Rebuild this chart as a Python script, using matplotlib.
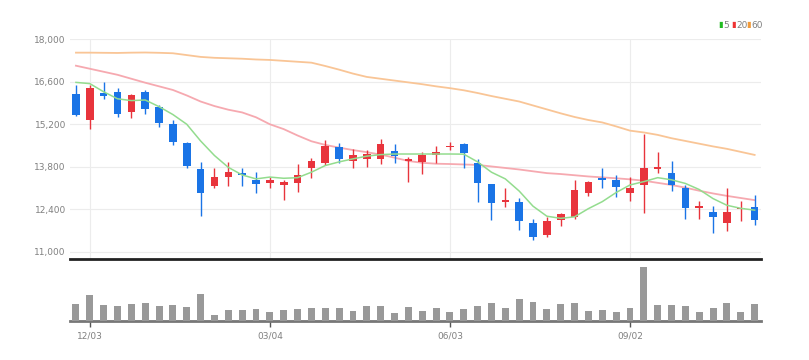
import matplotlib
matplotlib.use('Agg')
import matplotlib.pyplot as plt
import numpy as np

plt.rcParams['font.family'] = ['Liberation Sans Narrow', 'DejaVu Sans']

# weekly candles (red = up, blue = down)
opens = [16200, 15340, 16220, 16253, 15614, 16273, 15778, 15198, 14572, 13725,
         13175, 13472, 13583, 13363, 13274, 13198, 13254, 13768, 13933, 14440,
         13999, 14055, 14055, 14328, 13979, 13946, 14198, 14440, 14540, 13933,
         13231, 12647, 12647, 11955, 11550, 12044, 12153, 12944, 13418, 13363,
         12944, 13198, 13735, 13583, 13089, 12430, 12308, 11935, 12397, 12483]
closes = [15500, 16385, 16130, 15538, 16164, 15693, 15231, 14605, 13824, 12944,
          13472, 13636, 13517, 13221, 13363, 13297, 13517, 13999, 14483, 14045,
          14187, 14210, 14549, 14154, 14045, 14177, 14276, 14493, 14243, 13254,
          12614, 12703, 12021, 11474, 12021, 12242, 13033, 13287, 13363, 13122,
          13109, 13748, 13801, 13188, 12430, 12516, 12133, 12298, 12450, 12044]
highs = [16494, 16494, 16600, 16385, 16197, 16329, 15835, 15340, 14625, 13966,
         13748, 13966, 13748, 13616, 13451, 13363, 13880, 14078, 14681, 14572,
         14374, 14352, 14714, 14540, 14132, 14276, 14493, 14625, 14572, 14045,
         13231, 13089, 12759, 12067, 12153, 12285, 13363, 13330, 13748, 13527,
         13451, 14869, 14276, 13999, 13198, 12670, 12516, 13089, 12670, 12868]
lows = [15472, 15034, 16020, 15450, 15396, 15538, 15100, 14516, 13748, 12186,
        13089, 13175, 13165, 12944, 13089, 12703, 12977, 13418, 13857, 13913,
        13748, 13781, 13880, 13913, 13307, 13550, 13913, 14352, 13748, 12627,
        12044, 12463, 11715, 11385, 11494, 11846, 12077, 12835, 13089, 12792,
        12670, 12285, 13583, 13000, 12077, 12077, 11626, 11681, 12011, 11879]

ma5 = [16580, 16540, 16270, 16040, 15980, 16000, 15780, 15520, 15200, 14650,
       14170, 13780, 13530, 13400, 13460, 13420, 13440, 13620, 13840, 13960,
       14060, 14150, 14200, 14220, 14220, 14220, 14220, 14220, 14215, 13960,
       13620, 13400, 13000, 12500, 12170, 12100, 12150, 12420, 12650, 12950,
       13200, 13310, 13440, 13370, 13250, 13050, 12750, 12530, 12430, 12370]
ma20 = [17130, 17030, 16930, 16830, 16700, 16570, 16450, 16330, 16150, 15950,
        15800, 15680, 15590, 15430, 15200, 15040, 14830, 14640, 14520, 14430,
        14350, 14280, 14200, 14100, 13990, 13930, 13900, 13890, 13875, 13860,
        13810, 13760, 13710, 13650, 13590, 13560, 13520, 13480, 13450, 13420,
        13385, 13340, 13270, 13200, 13110, 13010, 12920, 12840, 12770, 12700]
ma60 = [17560, 17560, 17555, 17550, 17560, 17565, 17555, 17540, 17480, 17420,
        17390, 17375, 17360, 17335, 17320, 17290, 17260, 17230, 17120, 17000,
        16870, 16760, 16700, 16640, 16580, 16520, 16450, 16390, 16320, 16230,
        16130, 16040, 15950, 15820, 15690, 15560, 15440, 15340, 15260, 15130,
        14990, 14930, 14850, 14740, 14650, 14560, 14470, 14390, 14290, 14190]

volumes = [164, 257, 157, 147, 164, 174, 147, 157, 140, 264,
           57, 107, 107, 114, 90, 107, 114, 130, 130, 124,
           97, 147, 147, 80, 140, 97, 124, 90, 114, 147,
           174, 124, 214, 190, 114, 164, 180, 97, 107, 90,
           124, 540, 157, 157, 147, 84, 124, 180, 90, 164]

tick_idx = [1, 14, 27, 40]
tick_labels = ['12/03', '03/04', '06/03', '09/02']
price_ticks = [11000, 12400, 13800, 15200, 16600, 18000]

up_color = '#e8343c'
down_color = '#1a74e6'

fig = plt.figure(figsize=(8.09, 3.6), dpi=100)
ax = fig.add_axes([70 / 809, 1 - 259 / 360, 691 / 809, 219.7 / 360])
axv = fig.add_axes([70 / 809, 1 - 320.7 / 360, 691 / 809, 57.7 / 360], sharex=ax)

x = np.arange(len(opens))
width = 0.55

for i in x:
    c = up_color if closes[i] >= opens[i] else down_color
    ax.vlines(i, lows[i], highs[i], color=c, linewidth=1.0, zorder=3)
    bottom = min(opens[i], closes[i])
    h = max(abs(closes[i] - opens[i]), 25)
    ax.bar(i, h, width, bottom=bottom, color=c, zorder=4)

ax.plot(x, ma5, color='#93dc8e', linewidth=1.1, zorder=5)
ax.plot(x, ma20, color='#f6a9b0', linewidth=1.3, zorder=2)
ax.plot(x, ma60, color='#f9c596', linewidth=1.3, zorder=2)

ax.set_xlim(-0.43, 49.46)
ax.set_ylim(10760, 18000)
ax.set_yticks(price_ticks)
ax.set_yticklabels(['{:,}'.format(v) for v in price_ticks])
ax.set_xticks(tick_idx)
ax.tick_params(axis='y', length=0, pad=3, labelsize=6.5, labelcolor='#808080')
ax.tick_params(axis='x', length=0, labelbottom=False)
ax.grid(True, color='#ececec', linewidth=0.8, zorder=0)
for s in ['top', 'right', 'left']:
    ax.spines[s].set_visible(False)
ax.spines['bottom'].set_color('#222222')
ax.spines['bottom'].set_linewidth(2)

# legend
lx = [718 / 809, 731 / 809, 746 / 809]
for xx, col, lab in zip(lx, ['#22bb22', '#ee3333', '#f09a3a'], ['5', '20', '60']):
    fig.text(xx, 1 - 25 / 360, '\u25ae', color=col, fontsize=6, ha='left', va='center',
             family=['DejaVu Sans'])
    fig.text(xx + 5 / 809, 1 - 25 / 360, lab, color='#808080', fontsize=6.5,
             ha='left', va='center')

axv.bar(x, volumes, 0.5, color='#999999', zorder=3)
axv.set_ylim(0, max(volumes) * 57.7 / 54)
axv.set_yticks([])
for s in ['top', 'right', 'left']:
    axv.spines[s].set_visible(False)
axv.spines['bottom'].set_color('#777777')
axv.spines['bottom'].set_linewidth(2)
axv.set_xticks(tick_idx)
axv.set_xticklabels(tick_labels)
axv.tick_params(axis='x', length=4, width=1, color='#555555', pad=4,
                labelsize=6.5, labelcolor='#808080')

fig.savefig('out.png', dpi=100)
